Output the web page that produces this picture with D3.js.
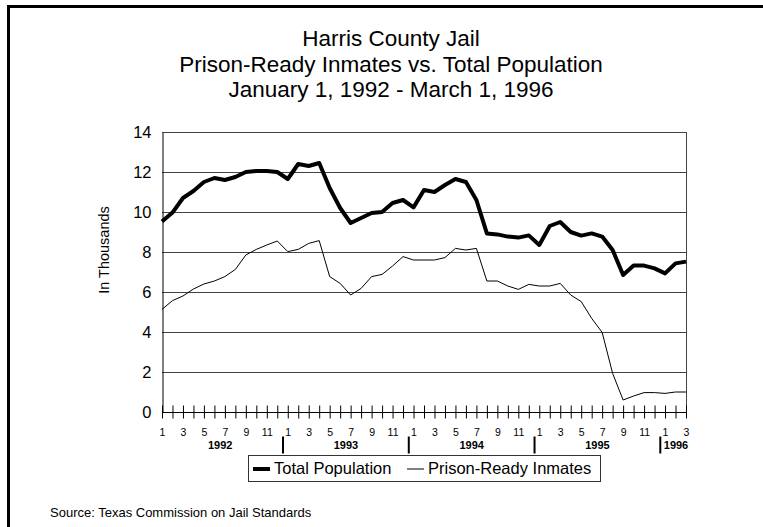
<!DOCTYPE html>
<html>
<head>
<meta charset="utf-8">
<script src="https://cdn.jsdelivr.net/npm/d3@7"></script>
<style>
  body { margin: 0; background: #fff; }
  svg { font-family: "Liberation Sans", Arial, sans-serif; }
</style>
</head>
<body>
<div id="chart"></div>
<script>
// month-by-month, Jan 1992 .. Mar 1996 (thousands)
const categories = [
  '1992-01','1992-02','1992-03','1992-04','1992-05','1992-06','1992-07','1992-08','1992-09','1992-10','1992-11','1992-12',
  '1993-01','1993-02','1993-03','1993-04','1993-05','1993-06','1993-07','1993-08','1993-09','1993-10','1993-11','1993-12',
  '1994-01','1994-02','1994-03','1994-04','1994-05','1994-06','1994-07','1994-08','1994-09','1994-10','1994-11','1994-12',
  '1995-01','1995-02','1995-03','1995-04','1995-05','1995-06','1995-07','1995-08','1995-09','1995-10','1995-11','1995-12',
  '1996-01','1996-02','1996-03'
];
const totalPopulation = [
  9.52, 9.97, 10.7, 11.05, 11.5, 11.7, 11.6, 11.75, 12.0, 12.05, 12.05, 12.0,
  11.65, 12.4, 12.3, 12.45, 11.2, 10.2, 9.45, 9.7, 9.95, 10.0, 10.45, 10.6,
  10.23, 11.1, 11.0, 11.35, 11.65, 11.5, 10.6, 8.93, 8.88, 8.77, 8.72, 8.83,
  8.35, 9.3, 9.5, 9.0, 8.82, 8.93, 8.77, 8.1, 6.85, 7.32, 7.32, 7.18,
  6.93, 7.43, 7.52
];
const prisonReady = [
  5.13, 5.57, 5.8, 6.15, 6.4, 6.55, 6.77, 7.13, 7.85, 8.13, 8.35, 8.55,
  8.02, 8.13, 8.43, 8.57, 6.77, 6.43, 5.85, 6.18, 6.77, 6.88, 7.3, 7.77,
  7.6, 7.6, 7.6, 7.72, 8.18, 8.1, 8.18, 6.55, 6.55, 6.3, 6.13, 6.38,
  6.3, 6.3, 6.43, 5.85, 5.52, 4.68, 3.98, 1.93, 0.6, 0.8, 0.97, 0.97,
  0.93, 1.0, 1.0
];
const yTicks = [0, 2, 4, 6, 8, 10, 12, 14];
const titleLines = [
  'Harris County Jail',
  'Prison-Ready Inmates vs. Total Population',
  'January 1, 1992 - March 1, 1996'
];

const W = 763, H = 527;
const plotLeft = 162, plotRight = 686, plotTop = 132, plotBottom = 412;

const svg = d3.select('#chart').append('svg')
  .attr('width', W)
  .attr('height', H);

// outer frame (cut off at right and bottom)
svg.append('path')
  .attr('d', `M8.5,${H} V6.5 H${W}`)
  .attr('fill', 'none')
  .attr('stroke', '#000')
  .attr('stroke-width', 3);

// titles
svg.append('g').selectAll('text')
  .data(titleLines)
  .join('text')
    .attr('x', 391)
    .attr('y', (d, i) => 46 + i * 25.5)
    .attr('text-anchor', 'middle')
    .attr('font-size', 22.5)
    .text(d => d);

const x = d3.scalePoint()
  .domain(categories)
  .range([plotLeft, plotRight]);
const y = d3.scaleLinear()
  .domain([0, 14])
  .range([plotBottom, plotTop]);

// grid lines
svg.append('g').selectAll('line')
  .data(yTicks.filter(d => d > 0))
  .join('line')
    .attr('x1', plotLeft).attr('x2', plotRight)
    .attr('y1', d => y(d) + 0.5).attr('y2', d => y(d) + 0.5)
    .attr('stroke', '#444')
    .attr('stroke-width', 1);

// right border
svg.append('line')
  .attr('x1', plotRight + 0.5).attr('x2', plotRight + 0.5)
  .attr('y1', plotTop).attr('y2', plotBottom)
  .attr('stroke', '#444');

// y axis
const yAxis = svg.append('g')
  .attr('transform', `translate(${plotLeft + 0.5},0.5)`)
  .call(d3.axisLeft(y).tickValues(yTicks).tickSize(0).tickPadding(11));
yAxis.select('.domain').attr('stroke', '#000');
yAxis.selectAll('text')
  .attr('font-size', 16.5)
  .attr('font-family', '"Liberation Sans", Arial, sans-serif')
  .attr('fill', '#000');

svg.append('text')
  .attr('transform', 'translate(109,250) rotate(-90)')
  .attr('text-anchor', 'middle')
  .attr('font-size', 14.5)
  .text('In Thousands');

// x axis: zero line, month ticks crossing it
const xAxis = svg.append('g')
  .attr('transform', `translate(0.5,${plotBottom + 0.5})`);
xAxis.append('line')
  .attr('x1', plotLeft).attr('x2', plotRight)
  .attr('stroke', '#000');
xAxis.selectAll('line.tick')
  .data(categories)
  .join('line')
    .attr('class', 'tick')
    .attr('x1', d => x(d)).attr('x2', d => x(d))
    .attr('y1', -7).attr('y2', 6)
    .attr('stroke', '#000');

const monthOf = d => +d.slice(5);
xAxis.selectAll('text.month')
  .data(categories.filter(d => monthOf(d) % 2 === 1))
  .join('text')
    .attr('class', 'month')
    .attr('x', d => x(d))
    .attr('y', 23)
    .attr('text-anchor', 'middle')
    .attr('font-size', 10.5)
    .text(d => monthOf(d));

// year labels and separators
const years = d3.groups(categories, d => d.slice(0, 4));
xAxis.selectAll('text.year')
  .data(years)
  .join('text')
    .attr('class', 'year')
    .attr('x', d => (x(d[1][0]) + x(d[1][d[1].length - 1])) / 2)
    .attr('y', 36)
    .attr('text-anchor', 'middle')
    .attr('font-size', 11)
    .attr('font-weight', 'bold')
    .text(d => d[0]);
xAxis.selectAll('line.sep')
  .data(years.slice(1))
  .join('line')
    .attr('class', 'sep')
    .attr('x1', d => x(d[1][0]) - x.step() / 2)
    .attr('x2', d => x(d[1][0]) - x.step() / 2)
    .attr('y1', 24).attr('y2', 41)
    .attr('stroke', '#000')
    .attr('stroke-width', 2);

// lines
const line = d3.line()
  .x((_, i) => x(categories[i]))
  .y(d => y(d));

svg.append('path')
  .datum(prisonReady)
  .attr('fill', 'none')
  .attr('stroke', '#000')
  .attr('stroke-width', 1)
  .attr('stroke-linejoin', 'round')
  .attr('d', line);

svg.append('path')
  .datum(totalPopulation)
  .attr('fill', 'none')
  .attr('stroke', '#000')
  .attr('stroke-width', 4)
  .attr('stroke-linejoin', 'round')
  .attr('d', line);

// legend
const legend = svg.append('g');
legend.append('rect')
  .attr('x', 248.5).attr('y', 455.5)
  .attr('width', 352).attr('height', 26)
  .attr('fill', '#fff')
  .attr('stroke', '#333');
const items = [
  { label: 'Total Population', width: 4, x0: 253 },
  { label: 'Prison-Ready Inmates', width: 1, x0: 407 }
];
items.forEach(it => {
  legend.append('line')
    .attr('x1', it.x0).attr('x2', it.x0 + 17)
    .attr('y1', 469).attr('y2', 469)
    .attr('stroke', '#000')
    .attr('stroke-width', it.width);
  legend.append('text')
    .attr('x', it.x0 + 21)
    .attr('y', 474)
    .attr('font-size', 16.5)
    .text(it.label);
});

// source
svg.append('text')
  .attr('x', 50)
  .attr('y', 517)
  .attr('font-size', 13)
  .text('Source:  Texas Commission on Jail Standards');
</script>
</body>
</html>
